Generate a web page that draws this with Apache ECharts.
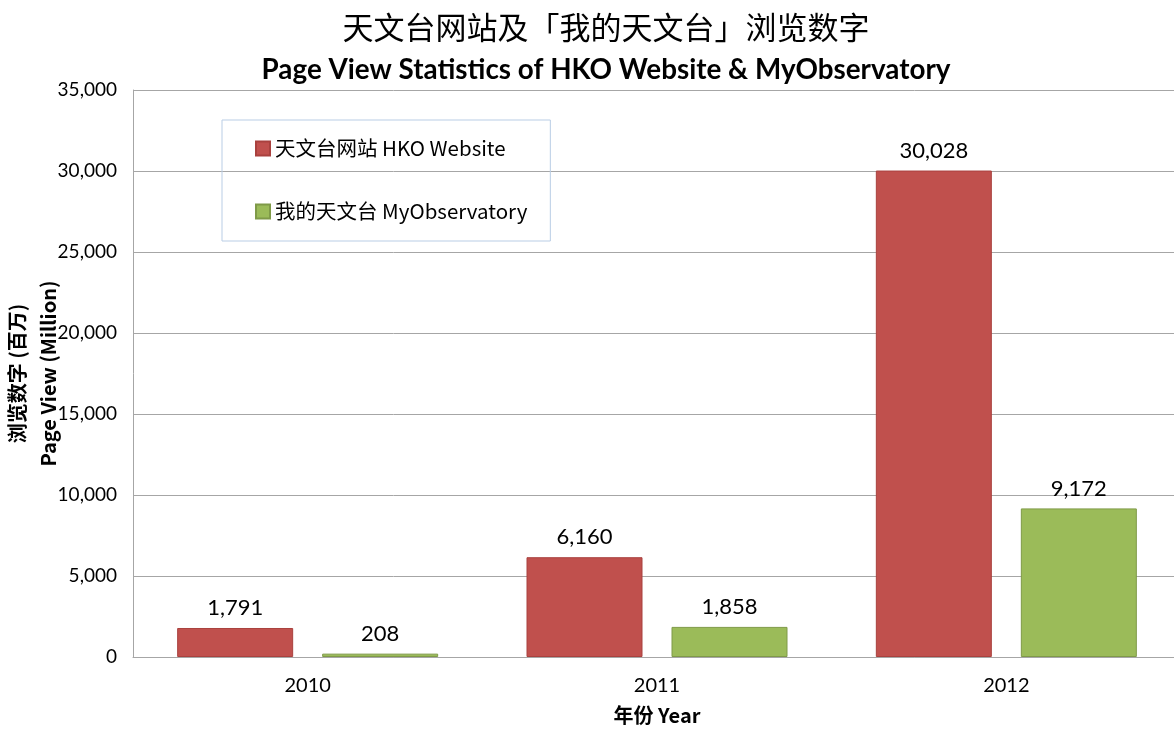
<!DOCTYPE html>
<html>
<head>
<meta charset="utf-8">
<script src="https://cdn.jsdelivr.net/npm/echarts@6/dist/echarts.min.js"></script>
<style>
html, body { margin: 0; padding: 0; background: #fff; }
#chart { width: 1174px; height: 729px; }
</style>
</head>
<body>
<div id="chart"></div>
<script>
// 年份与浏览数字 (百万)
var years = ['2010', '2011', '2012'];
var hkoWebsite = [1791, 6160, 30028];
var myObservatory = [208, 1858, 9172];
var seriesNames = ['天文台网站 HKO Website', '我的天文台 MyObservatory'];

var cjk = '"Noto Sans CJK SC", Lato, sans-serif';
var latin = 'Lato, "Noto Sans CJK SC", sans-serif';

function withComma(v) {
    return String(v).replace(/\B(?=(\d{3})+(?!\d))/g, ',');
}

var myChart = echarts.init(document.getElementById('chart'));

var option = {
    backgroundColor: '#fff',
    animation: false,
    title: [{
        text: '天文台网站及「我的天文台」浏览数字',
        left: 601,
        textAlign: 'center',
        top: 7,
        textStyle: { fontFamily: cjk, fontSize: 31, fontWeight: 'normal', color: '#000' }
    }, {
        text: 'Page View Statistics of HKO Website & MyObservatory',
        left: 601,
        textAlign: 'center',
        top: 51,
        textStyle: { fontFamily: latin, fontSize: 27.8, fontWeight: 'bold', color: '#000' }
    }],
    legend: {
        orient: 'vertical',
        left: 222,
        top: 120,
        padding: [18, 23, 19, 33],
        borderColor: '#b9cde5',
        borderWidth: 1,
        itemWidth: 14,
        itemHeight: 14,
        itemGap: 42,
        icon: 'rect',
        textStyle: { fontFamily: cjk, fontSize: 20.5, color: '#000', lineHeight: 21 },
        data: seriesNames
    },
    grid: { left: 133, right: -7, top: 90, bottom: 72, outerBoundsMode: 'none', containLabel: false },
    xAxis: {
        type: 'category',
        data: years,
        name: '年份 Year',
        nameLocation: 'middle',
        nameGap: 48,
        nameMoveOverlap: false,
        nameTextStyle: { fontFamily: cjk, fontSize: 20, fontWeight: 'bold', color: '#000' },
        axisLine: { lineStyle: { color: '#a6a6a6', width: 1 } },
        axisTick: { show: false },
        axisLabel: { fontFamily: latin, fontSize: 20, color: '#000', margin: 19 }
    },
    yAxis: {
        type: 'value',
        min: 0,
        max: 35000,
        interval: 5000,
        name: '浏览数字 (百万)\nPage View (Million)',
        nameLocation: 'middle',
        nameRotate: 90,
        nameGap: 69,
        nameMoveOverlap: false,
        nameTextStyle: { fontFamily: cjk, fontSize: 20, fontWeight: 'bold', color: '#000', lineHeight: 31 },
        axisLine: { show: true, lineStyle: { color: '#a6a6a6', width: 1 } },
        axisTick: { show: false },
        axisLabel: { fontFamily: latin, fontSize: 19, color: '#000', margin: 16, formatter: withComma },
        splitLine: { lineStyle: { color: '#a6a6a6', width: 1 } }
    },
    series: [{
        name: seriesNames[0],
        type: 'bar',
        data: hkoWebsite,
        barWidth: 116,
        barGap: '25%',
        itemStyle: { color: '#c0504d', borderColor: '#a9413e', borderWidth: 1 },
        label: {
            show: true, position: 'top', distance: 9,
            fontFamily: latin, fontSize: 22, color: '#000',
            formatter: function (p) { return withComma(p.value); }
        }
    }, {
        name: seriesNames[1],
        type: 'bar',
        data: myObservatory,
        barWidth: 116,
        itemStyle: { color: '#9bbb59', borderColor: '#7f9a48', borderWidth: 1 },
        label: {
            show: true, position: 'top', distance: 9,
            fontFamily: latin, fontSize: 22, color: '#000',
            formatter: function (p) { return withComma(p.value); }
        }
    }]
};

myChart.setOption(option);
window.onresize = myChart.resize;
</script>
</body>
</html>
